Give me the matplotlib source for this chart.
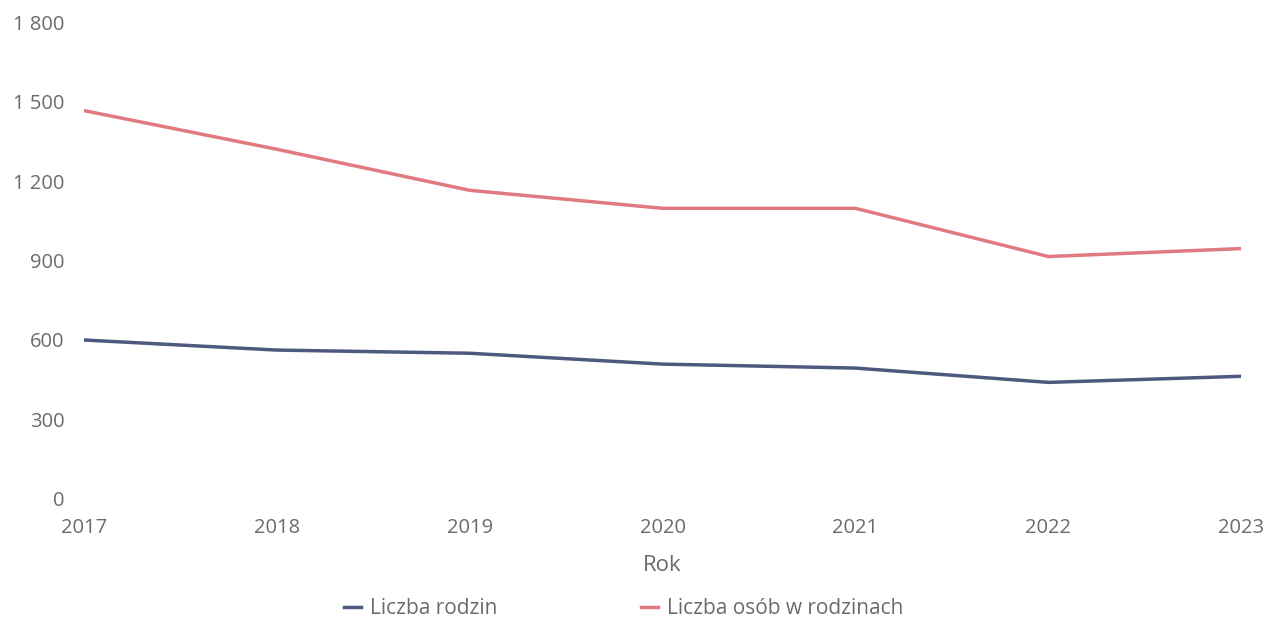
import matplotlib
matplotlib.use("Agg")
import matplotlib.pyplot as plt
from matplotlib.ticker import FuncFormatter

years = [2017, 2018, 2019, 2020, 2021, 2022, 2023]
rodziny = [600, 562, 550, 509, 494, 440, 463]
osoby = [1466, 1320, 1165, 1097, 1097, 915, 945]

plt.rcParams["font.family"] = ["Open Sans", "DejaVu Sans"]
text_color = "#6b6b6b"

fig = plt.figure(figsize=(12.68, 6.21), dpi=100)
ax = fig.add_axes([0.066, 0.1965, 0.913, 0.768])

ax.plot(years, rodziny, color="#4b5a7e", lw=2.5, label="Liczba rodzin")
ax.plot(years, osoby, color="#e07a80", lw=2.5, label="Liczba osób w rodzinach")

ax.set_xlim(2017, 2023)
ax.set_ylim(0, 1800)
ax.set_yticks(range(0, 1801, 300))
ax.yaxis.set_major_formatter(FuncFormatter(lambda v, p: f"{int(v):,}".replace(",", " ")))
ax.set_xticks(years)
ax.tick_params(length=0, labelsize=14.5, colors=text_color)
ax.tick_params(axis="x", pad=14)
ax.tick_params(axis="y", pad=14)
for s in ax.spines.values():
    s.set_visible(False)

ax.set_xlabel("Rok", fontsize=16, color=text_color, labelpad=12)
fig.legend(loc="center", bbox_to_anchor=(0.492, 0.02), ncol=2, frameon=False,
           fontsize=15, handlelength=0.8, handletextpad=0.45, columnspacing=6.9,
           labelcolor=text_color)

fig.savefig("out.png", dpi=100)
